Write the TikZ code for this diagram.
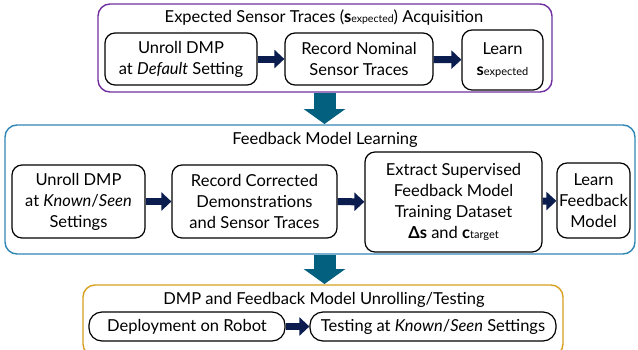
\documentclass[tikz,border=0pt]{standalone}
\usepackage{fontspec}
\setmainfont{Lato}
\usetikzlibrary{arrows.meta}
\definecolor{stagepurple}{HTML}{7030A0}
\definecolor{stageblue}{HTML}{2F86B4}
\definecolor{stagegold}{HTML}{D6A21E}
\definecolor{flowteal}{HTML}{03607F}
\definecolor{stepnavy}{HTML}{0B1D4F}
\tikzset{
  stage/.style={draw, line width=1.4pt, rounded corners=12pt},
  stagetitle/.style={font=\fontsize{16.5}{19}\selectfont, inner sep=0pt},
  stepbox/.style={draw=black, line width=1.2pt, rounded corners=10pt, align=center,
    font=\fontsize{16.5}{21}\selectfont, inner sep=1pt},
  stepflow/.style={draw=stepnavy, line width=7pt,
    -{Triangle[length=10pt,width=18pt]}},
  stageflow/.style={draw=flowteal, line width=22pt,
    -{Triangle[length=15pt,width=41pt]}},
}
\newcommand{\vsym}[1]{\textbf{#1}}
\begin{document}
\begin{tikzpicture}[x=1pt,y=-1pt]
\useasboundingbox (0,0) rectangle (638,349);

% stage 1: expected sensor traces
\draw[stage, stagepurple] (98,4) rectangle (552,92);
\node[stagetitle] (t1) at (324,18) {Expected Sensor Traces (\vsym{s}{\fontsize{10.5}{10}\selectfont expected}) Acquisition};
\node[stepbox, minimum width=152pt, minimum height=52pt] (a1) at (181,59)
  {Unroll DMP\\at \textit{Default} Setting};
\node[stepbox, minimum width=148pt, minimum height=52pt] (a2) at (359,59)
  {Record Nominal\\Sensor Traces};
\node[stepbox, minimum width=81pt, minimum height=60pt] (a3) at (502.5,60)
  {Learn\\\vsym{s}{\fontsize{11}{11}\selectfont expected}};
\draw[stepflow] (a1) -- (a2);
\draw[stepflow] (a2) -- (a3);

% stage 2: feedback model learning
\draw[stage, stageblue] (5,125) rectangle (635,254);
\node[stagetitle] (t2) at (325,140) {Feedback Model Learning};
\node[stepbox, minimum width=133pt, minimum height=73pt] (b1) at (78.5,201.5)
  {Unroll DMP\\at \textit{Known}/\textit{Seen}\\Settings};
\node[stepbox, minimum width=165pt, minimum height=73pt] (b2) at (254.5,201.5)
  {Record Corrected\\Demonstrations\\and Sensor Traces};
\node[stepbox, minimum width=177pt, minimum height=100pt] (b3) at (453.5,202)
  {Extract Supervised\\Feedback Model\\Training Dataset\\\vsym{Δs} and \vsym{c}{\fontsize{11}{11}\selectfont target}};
\node[stepbox, minimum width=73pt, minimum height=75pt] (b4) at (593.5,200.5)
  {Learn\\Feedback\\Model};
\draw[stepflow] (b1) -- (b2);
\draw[stepflow] (b2) -- (b3);
\draw[stepflow] (b3) -- (b4);

% stage 3: unrolling and testing
\draw[stage, stagegold] (83,285) rectangle (563,356);
\node[stagetitle] (t3) at (324,300) {DMP and Feedback Model Unrolling/Testing};
\node[stepbox, minimum width=196pt, minimum height=29pt, rounded corners=13pt] (c1) at (187,326.5)
  {Deployment on Robot};
\node[stepbox, minimum width=246pt, minimum height=29pt, rounded corners=13pt] (c2) at (433,326.5)
  {Testing at \textit{Known}/\textit{Seen} Settings};
\draw[stepflow] (c1) -- (c2);

% flow between stages
\coordinate (s1) at (324.5,92.7);
\coordinate (s2) at (324.5,124);
\coordinate (s3) at (324.5,254.7);
\coordinate (s4) at (324.5,284);
\draw[stageflow] (s1) -- (s2);
\draw[stageflow] (s3) -- (s4);
\end{tikzpicture}
\end{document}
